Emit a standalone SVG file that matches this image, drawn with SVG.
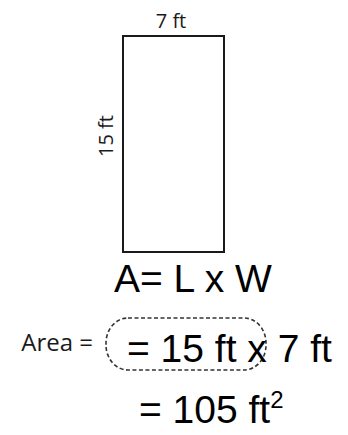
<svg xmlns="http://www.w3.org/2000/svg" width="348" height="435" viewBox="0 0 348 435">
<style>
.lbl{font-family:"Open Sans","Noto Sans",sans-serif;fill:#1a1a1a}
.eq{font-family:"Liberation Sans",Arial,sans-serif;fill:#000;font-size:39px}
</style>
<rect width="348" height="435" fill="#fff"/>
<g id="rectangle">
<rect x="123" y="36" width="101" height="216" fill="#fff" stroke="#1a1a1a" stroke-width="2"/>
<text class="lbl" x="171" y="28" font-size="20" text-anchor="middle">7 ft</text>
<text class="lbl" x="0" y="0" font-size="20" text-anchor="middle" transform="translate(113,136) rotate(-90)">15 ft</text>
</g>
<g id="formula">
<text class="eq" x="114" y="292">A= L x W</text>
</g>
<g id="substitution">
<text class="lbl" x="93" y="351" font-size="24" text-anchor="end">Area =</text>
<rect x="106" y="318" width="160" height="52" rx="22" ry="25" fill="none" stroke="#333" stroke-width="1.6" stroke-dasharray="4 2.5"/>
<text class="eq" x="127" y="362">= 15 ft x 7 ft</text>
</g>
<g id="result">
<text class="eq" x="139" y="423">= 105 ft<tspan font-size="24" dy="-15">2</tspan></text>
</g>
</svg>
